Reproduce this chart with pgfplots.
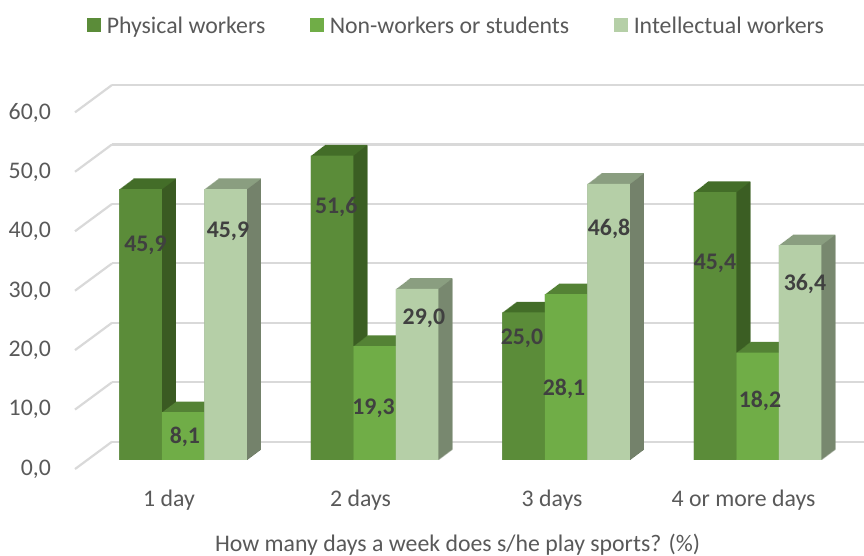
\documentclass[border=0pt]{standalone}
\usepackage{fontspec}
\setmainfont{Carlito}
\usepackage{pgfplots}
\usepackage{pgfplotstable}
\pgfplotsset{compat=1.18}
\definecolor{pwF}{HTML}{5B8C39}
\definecolor{pwT}{HTML}{436D28}
\definecolor{pwS}{HTML}{3A5A22}
\definecolor{nwF}{HTML}{70AD47}
\definecolor{nwT}{HTML}{548235}
\definecolor{nwS}{HTML}{4A7530}
\definecolor{iwF}{HTML}{B5CFA7}
\definecolor{iwT}{HTML}{8A9E80}
\definecolor{iwS}{HTML}{74826B}
\definecolor{gridc}{HTML}{D9D9D9}
\definecolor{txt}{HTML}{595959}
\definecolor{lbl}{HTML}{404040}

\pgfplotstableread{
x pw nw iw
0 45.9 8.1 45.9
1 51.6 19.3 29.0
2 25.0 28.1 46.8
3 45.4 18.2 36.4
}\data

\pgfplotstableread{
x y v
-0.196 36.44 45.9
0.010 3.95 8.1
0.235 38.70 45.9
0.800 42.90 51.6
0.995 8.76 19.3
1.258 24.07 29.0
1.770 20.68 25.0
1.990 12.03 28.1
2.225 39.15 46.8
2.778 33.39 45.4
3.013 10.05 18.2
3.248 29.83 36.4
}\labels

% #1 column, #2 shift, #3 top colour, #4 side colour, #5 front colour, #6 legend text
\newcommand\series[6]{%
  \pgfplotsinvokeforeach{0,...,14}{%
    \addplot[ybar, bar width=42.5pt, bar shift=#2pt, draw=none, fill=#3,
      xshift=##1pt, yshift=##1*0.764pt, forget plot] table[x=x,y=#1]{\data};}
  \pgfplotsinvokeforeach{0,...,13}{%
    \addplot[ybar, bar width=1.2pt, bar shift={#2pt+21.85pt}, draw=none, fill=#4,
      xshift=##1pt, yshift=##1*0.764pt, forget plot] table[x=x,y=#1]{\data};}
  \addplot[ybar, bar width=42.5pt, bar shift=#2pt, draw=none, fill=#5,
    legend image code/.code={\fill[#5] (0pt,-5.5pt) rectangle (14pt,8.5pt);
      \path (19.5pt,0pt);}]
    table[x=x,y=#1]{\data};
  \addlegendentry{#6}
}

\begin{document}
\fontsize{23.8}{28}\selectfont
\begin{tikzpicture}[x=1pt,y=1pt]
\useasboundingbox (0,0) rectangle (864,556);
% back wall with gridlines
\begin{axis}[at={(112pt,114.3pt)}, anchor=south west, scale only axis,
  width=752pt, height=356.7pt, xmin=112, xmax=864, ymin=0, ymax=60,
  ytick={0,10,...,60}, xtick=\empty, yticklabels={}, ymajorgrids,
  grid style={gridc, line width=2.2pt}, axis line style={draw=none},
  major tick length=0pt, clip=false]
\draw[gridc, line width=2.2pt] (axis cs:75,-4.6) -- (axis cs:112,0);
\draw[gridc, line width=2.2pt] (axis cs:75,5.4) -- (axis cs:112,10);
\draw[gridc, line width=2.2pt] (axis cs:75,15.4) -- (axis cs:112,20);
\draw[gridc, line width=2.2pt] (axis cs:75,25.4) -- (axis cs:112,30);
\draw[gridc, line width=2.2pt] (axis cs:75,35.4) -- (axis cs:112,40);
\draw[gridc, line width=2.2pt] (axis cs:75,45.4) -- (axis cs:112,50);
\draw[gridc, line width=2.2pt] (axis cs:75,55.4) -- (axis cs:112,60);
\end{axis}
% front tick labels
\begin{axis}[at={(75pt,87pt)}, anchor=south west, scale only axis,
  width=10pt, height=355.8pt, xmin=0, xmax=1, ymin=0, ymax=60,
  ytick={0,10,...,60}, xtick=\empty, axis line style={draw=none},
  major tick length=0pt,
  yticklabel style={text=txt, xshift=-16pt},
  /pgf/number format/use comma, /pgf/number format/fixed,
  /pgf/number format/fixed zerofill, /pgf/number format/precision=1,
  /pgf/number format/assume math mode=true]
\end{axis}
% bars
\begin{axis}[at={(87.25pt,96pt)}, anchor=south west, scale only axis,
  width=766pt, height=354pt, xmin=-0.5, xmax=3.5, ymin=0, ymax=60,
  axis line style={draw=none}, major tick length=0pt, ytick=\empty,
  xtick={0,1,2,3}, xticklabels={1 day,2 days,3 days,4 or more days},
  xticklabel style={anchor=center, xshift=-14pt, yshift=-40pt, text=txt},
  xlabel={How many days a week does s/he play sports? (\%)},
  xlabel style={at={(axis description cs:0.4834,-0.2401)}, anchor=center, text=txt},
  clip=false,
  legend columns=3,
  legend style={draw=none, fill=none, inner sep=0pt, outer sep=0pt,
    at={(axis description cs:0.0,1.2232)}, anchor=west,
    nodes={text=txt, inner sep=0pt},
    /tikz/every even column/.append style={column sep=45pt}},
  /pgf/number format/use comma, /pgf/number format/fixed,
  /pgf/number format/fixed zerofill, /pgf/number format/precision=1,
  /pgf/number format/assume math mode=true]
\series{pw}{-42.5}{pwT}{pwS}{pwF}{Physical workers}
\series{nw}{0}{nwT}{nwS}{nwF}{Non-workers or students}
\series{iw}{42.5}{iwT}{iwS}{iwF}{Intellectual workers}
\addplot[draw=none, mark=none, forget plot, nodes near coords, point meta=explicit,
  every node near coord/.append style={anchor=center, font=\bfseries, text=lbl}]
  table[x=x, y=y, meta=v]{\labels};
\end{axis}
\end{tikzpicture}
\end{document}
